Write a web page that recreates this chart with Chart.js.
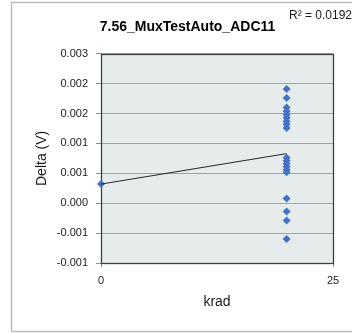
<!DOCTYPE html>
<html>
<head>
<meta charset="utf-8">
<script src="https://cdn.jsdelivr.net/npm/chart.js@4"></script>
<style>
  html, body { margin: 0; padding: 0; background: #fff; }
  canvas { display: block; }
</style>
</head>
<body>
<canvas id="chart" width="352" height="333"></canvas>
<script>
// Texts
const chartTitle = '7.56_MuxTestAuto_ADC11';
const rSquaredText = 'R\u00b2 = 0.0192';
const xTitle = 'krad';
const yTitle = 'Delta (V)';

// Axis ticks (labels as shown, rounded to 3 decimals)
const xTickValues = [0, 25];
const xTickLabels = ['0', '25'];
const yTickValues = [-0.001, -0.0005, 0, 0.0005, 0.001, 0.0015, 0.002, 0.0025];
const yTickLabels = ['-0.001', '-0.001', '0.000', '0.001', '0.001', '0.002', '0.002', '0.003'];

// Measured points (dose in krad, delta in V)
const doseKrad = [0,
  20, 20, 20, 20, 20, 20, 20, 20, 20,
  20, 20, 20, 20, 20, 20,
  20, 20, 20, 20];
const deltaV = [0.00032,
  0.00191, 0.00176, 0.00160, 0.00154, 0.00148, 0.00143, 0.00137, 0.00132, 0.00126,
  0.00076, 0.00071, 0.00066, 0.00061, 0.00056, 0.00052,
  0.00008, -0.00014, -0.00029, -0.00060];

// Linear trendline end points
const trendX = [0, 20];
const trendY = [0.00032, 0.00083];

const points = doseKrad.map((x, i) => ({ x: x, y: deltaV[i] }));
const trend = trendX.map((x, i) => ({ x: x, y: trendY[i] }));

const font = 'Liberation Sans';

// outer frame, plot background/border and the R² label
const frame = {
  id: 'frame',
  beforeDraw(chart) {
    const { ctx, chartArea: a } = chart;
    ctx.save();
    ctx.fillStyle = '#fff';
    ctx.fillRect(0, 0, chart.width, chart.height);
    ctx.strokeStyle = '#bdbdbd';
    ctx.lineWidth = 1.5;
    ctx.strokeRect(11.5, 2.5, 360, 329);
    ctx.fillStyle = '#e6ebec';
    ctx.fillRect(a.left, a.top, a.right - a.left, a.bottom - a.top);
    ctx.restore();
  },
  beforeDatasetsDraw(chart) {
    const { ctx, chartArea: a } = chart;
    ctx.save();
    ctx.strokeStyle = '#404040';
    ctx.lineWidth = 1.3;
    ctx.strokeRect(Math.round(a.left) + 0.5, Math.round(a.top) + 0.5,
      Math.round(a.right - a.left), Math.round(a.bottom - a.top));
    ctx.restore();
  },
  afterDraw(chart) {
    const ctx = chart.ctx;
    ctx.save();
    ctx.font = '12px "' + font + '"';
    ctx.fillStyle = '#1a1a1a';
    ctx.textAlign = 'left';
    ctx.textBaseline = 'alphabetic';
    ctx.fillText(rSquaredText, 289, 18.5);
    ctx.restore();
  }
};

new Chart(document.getElementById('chart'), {
  type: 'scatter',
  data: {
    datasets: [
      {
        label: 'trend',
        data: trend,
        showLine: true,
        borderColor: '#262626',
        borderWidth: 1,
        pointRadius: 0
      },
      {
        label: 'delta',
        data: points,
        clip: false,
        pointStyle: 'rectRot',
        pointRadius: 4,
        pointBorderWidth: 0,
        backgroundColor: '#4472c4',
        borderColor: '#4472c4'
      }
    ]
  },
  options: {
    responsive: false,
    animation: false,
    devicePixelRatio: 1,
    layout: { padding: { left: 23, right: 0, top: 0, bottom: 20 } },
    plugins: {
      legend: { display: false },
      tooltip: { enabled: false },
      title: {
        display: true,
        text: chartTitle,
        color: '#000',
        font: { family: font, size: 14, weight: 'bold' },
        padding: { top: 19, bottom: 18 }
      }
    },
    scales: {
      x: {
        type: 'linear',
        min: 0,
        max: 25,
        afterBuildTicks: s => { s.ticks = xTickValues.map(v => ({ value: v })); },
        afterFit: s => { s.height = 50; },
        grid: { drawOnChartArea: false, tickLength: 4, tickColor: '#8c8c8c' },
        border: { display: false },
        ticks: {
          padding: 7,
          maxRotation: 0,
          color: '#1a1a1a',
          font: { family: font, size: 11 },
          callback: (v, i) => xTickLabels[i]
        },
        title: {
          display: true,
          text: xTitle,
          color: '#1a1a1a',
          font: { family: font, size: 14 },
          padding: { top: 0, bottom: 2 }
        }
      },
      y: {
        type: 'linear',
        min: -0.001,
        max: 0.0025,
        afterBuildTicks: s => { s.ticks = yTickValues.map(v => ({ value: v })); },
        afterFit: s => { s.width = 78; },
        grid: { color: '#a3a3a3', tickLength: 5, tickColor: '#8c8c8c' },
        border: { display: false },
        ticks: {
          padding: 8,
          color: '#1a1a1a',
          font: { family: font, size: 11 },
          callback: (v, i) => yTickLabels[i]
        },
        title: {
          display: true,
          text: yTitle,
          color: '#1a1a1a',
          font: { family: font, size: 14 },
          padding: { top: 11, bottom: 0 }
        }
      },
      // empty right axis, only keeps the space right of the plot
      yRight: {
        type: 'linear',
        position: 'right',
        afterFit: s => { s.width = 19; },
        grid: { display: false },
        border: { display: false },
        ticks: { display: false }
      }
    }
  },
  plugins: [frame]
});
</script>
</body>
</html>
